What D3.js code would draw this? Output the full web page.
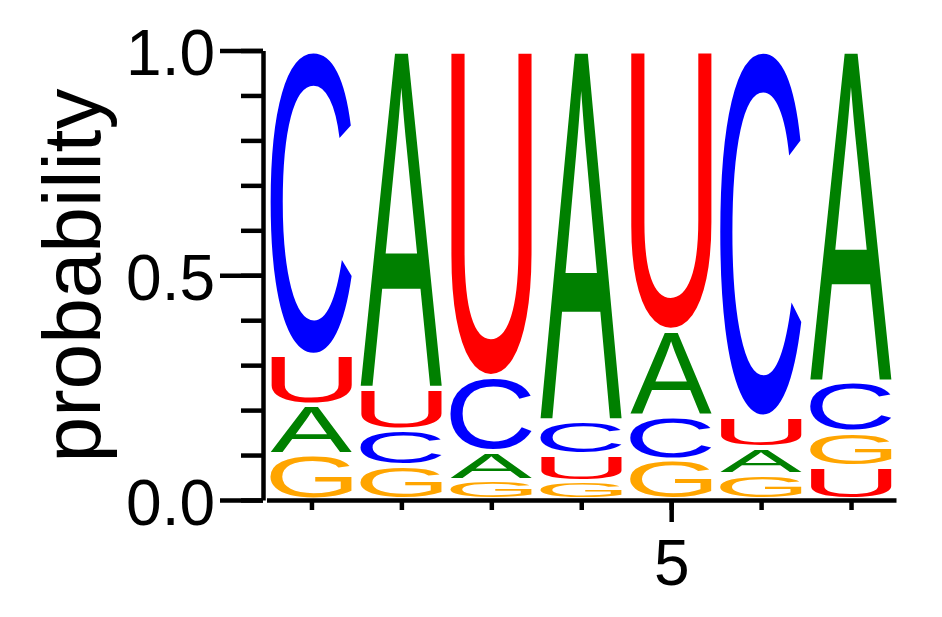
<!DOCTYPE html>
<html>
<head>
<meta charset="utf-8">
<script src="https://cdn.jsdelivr.net/npm/d3@7"></script>
<style>
  body { margin: 0; background: #fff; }
  svg { display: block; }
</style>
</head>
<body>
<div id="chart"></div>
<script>
// position-wise probabilities
const positions = [1, 2, 3, 4, 5, 6, 7];
const bases = ['A', 'C', 'G', 'U'];
const probA = [0.109, 0.751, 0.065, 0.823, 0.191, 0.059, 0.737];
const probC = [0.678, 0.081, 0.166, 0.076, 0.097, 0.815, 0.112];
const probG = [0.102, 0.076, 0.044, 0.042, 0.090, 0.058, 0.076];
const probU = [0.111, 0.092, 0.725, 0.059, 0.622, 0.068, 0.075];
const yMajorTicks = [0, 0.5, 1];
const yMinorTicks = [0, 0.1, 0.2, 0.3, 0.4, 0.5, 0.6, 0.7, 0.8, 0.9, 1];
const xTicks = [1, 2, 3, 4, 5, 6, 7];
const xLabelTicks = [5];
const yLabel = 'probability';

const colors = { A: '#008000', C: '#0000ff', G: '#ffa500', U: '#ff0000' };
const probs = { A: probA, C: probC, G: probG, U: probU };
const FONT = '"Liberation Sans", Arial, Helvetica, sans-serif';

const width = 942, height = 617;

const svg = d3.select('#chart').append('svg')
  .attr('width', width)
  .attr('height', height);

const x = d3.scaleLinear().domain([0.5, 7.5]).range([266.5, 896]);
const y = d3.scaleLinear().domain([0, 1]).range([500, 50.5]);

// measure real ink bounds of each glyph so it can be stretched to its box
const ctx = document.createElement('canvas').getContext('2d');
ctx.font = `100px ${FONT}`;
const ink = {};
bases.forEach(b => {
  const m = ctx.measureText(b);
  ink[b] = {
    l: m.actualBoundingBoxLeft,
    r: m.actualBoundingBoxRight,
    a: m.actualBoundingBoxAscent,
    d: m.actualBoundingBoxDescent
  };
});

const step = x(2) - x(1);
const glyphW = step * 0.91;
const pad = 2.3;

const logo = svg.append('g');
positions.forEach((pos, i) => {
  const stack = bases.map(b => ({ base: b, p: probs[b][i] }))
    .sort((a, b) => a.p - b.p);
  let cum = 0;
  stack.forEach(s => {
    const lo = cum, hi = cum + s.p;
    cum = hi;
    const top = y(hi) + pad;
    const bh = y(lo) - y(hi) - 2 * pad;
    const m = ink[s.base];
    const sx = glyphW / (m.l + m.r);
    const sy = bh / (m.a + m.d);
    const x0 = x(pos) - glyphW / 2;
    logo.append('text')
      .attr('transform', `translate(${x0 + m.l * sx},${top + m.a * sy}) scale(${sx},${sy})`)
      .attr('font-family', FONT)
      .attr('font-size', 100)
      .attr('fill', colors[s.base])
      .text(s.base);
  });
});

// y axis: minor ticks, then major ticks with labels
const axisX = 263;
svg.append('g')
  .attr('transform', `translate(${axisX},0)`)
  .call(d3.axisLeft(y).tickValues(yMinorTicks).tickSize(22).tickSizeOuter(0).tickFormat(''))
  .call(g => g.select('.domain').remove());

const yAxis = svg.append('g')
  .attr('transform', `translate(${axisX},0)`)
  .call(d3.axisLeft(y).tickValues(yMajorTicks).tickSize(43).tickSizeOuter(0)
    .tickPadding(5).tickFormat(d3.format('.1f')));

yAxis.selectAll('text')
  .attr('dy', '0.38em')
  .style('font-family', FONT)
  .style('font-size', '64px')
  .attr('fill', '#000');

svg.selectAll('.tick line').attr('stroke', '#000').attr('stroke-width', 4.5);
yAxis.select('.domain').attr('stroke', '#000').attr('stroke-width', 4.5);

// x axis
const xAxis = svg.append('g')
  .attr('transform', `translate(0,${y(0)})`)
  .call(d3.axisBottom(x).tickValues(xTicks).tickSize(10).tickSizeOuter(0).tickFormat(''));
xAxis.select('.domain').attr('stroke', '#000').attr('stroke-width', 4.5);
xAxis.selectAll('.tick line').attr('stroke', '#000').attr('stroke-width', 4.5);

const xMajor = svg.append('g')
  .attr('transform', `translate(0,${y(0)})`)
  .call(d3.axisBottom(x).tickValues(xLabelTicks).tickSize(22).tickSizeOuter(0)
    .tickPadding(18).tickFormat(d3.format('d')));
xMajor.select('.domain').remove();
xMajor.selectAll('.tick line').attr('stroke', '#000').attr('stroke-width', 4.5);
xMajor.selectAll('text')
  .style('font-family', FONT)
  .style('font-size', '64px')
  .attr('fill', '#000');

// axis title
svg.append('text')
  .attr('transform', 'translate(100,275.5) rotate(-90)')
  .attr('text-anchor', 'middle')
  .style('font-family', FONT)
  .style('font-size', '82px')
  .attr('fill', '#000')
  .text(yLabel);
</script>
</body>
</html>
